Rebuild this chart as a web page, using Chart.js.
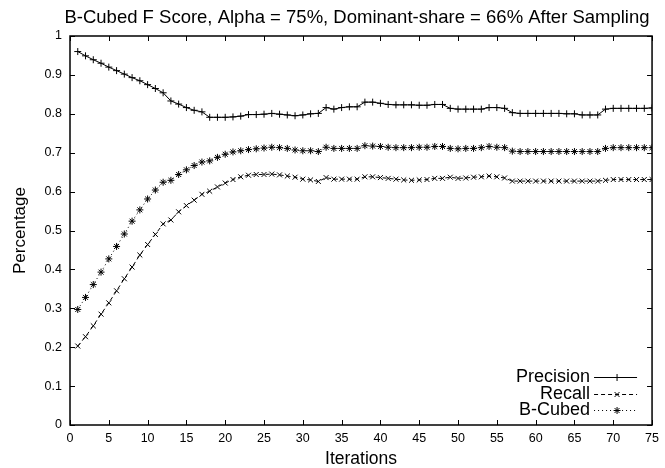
<!DOCTYPE html>
<html>
<head>
<meta charset="utf-8">
<script src="https://cdn.jsdelivr.net/npm/chart.js@4"></script>
<style>
  html, body { margin: 0; padding: 0; background: #fff; }
  #zone { width: 665px; height: 468px; }
</style>
</head>
<body>
<div id="zone"><canvas id="graphe"></canvas></div>
<script>
// Donnees (iterations 1 a 75)
const iterations = Array.from({ length: 75 }, (_, i) => i + 1);

const precision = [
  0.960, 0.949, 0.939, 0.930, 0.920, 0.911, 0.902, 0.893, 0.885, 0.875,
  0.865, 0.854, 0.833, 0.825, 0.816, 0.809, 0.805, 0.791, 0.791, 0.791,
  0.792, 0.794, 0.798, 0.798, 0.799, 0.801, 0.799, 0.797, 0.795, 0.797,
  0.800, 0.801, 0.816, 0.812, 0.816, 0.818, 0.818, 0.830, 0.830, 0.827,
  0.824, 0.823, 0.823, 0.823, 0.822, 0.822, 0.824, 0.824, 0.814, 0.812,
  0.812, 0.812, 0.812, 0.816, 0.816, 0.814, 0.803, 0.801, 0.801, 0.801,
  0.801, 0.801, 0.801, 0.800, 0.800, 0.797, 0.797, 0.797, 0.812, 0.814,
  0.814, 0.814, 0.814, 0.814, 0.815
];

const recall = [
  0.203, 0.227, 0.255, 0.285, 0.314, 0.345, 0.376, 0.406, 0.437, 0.464,
  0.490, 0.517, 0.527, 0.548, 0.564, 0.578, 0.593, 0.601, 0.612, 0.622,
  0.631, 0.638, 0.642, 0.644, 0.644, 0.645, 0.643, 0.640, 0.637, 0.632,
  0.630, 0.626, 0.636, 0.632, 0.632, 0.632, 0.632, 0.638, 0.638, 0.636,
  0.634, 0.632, 0.630, 0.629, 0.630, 0.631, 0.634, 0.634, 0.637, 0.634,
  0.635, 0.637, 0.638, 0.640, 0.638, 0.635, 0.627, 0.627, 0.627, 0.627,
  0.627, 0.627, 0.627, 0.627, 0.627, 0.627, 0.627, 0.627, 0.629, 0.631,
  0.631, 0.631, 0.631, 0.631, 0.631
];

const bcubed = [
  0.297, 0.328, 0.361, 0.393, 0.427, 0.459, 0.491, 0.524, 0.553, 0.581,
  0.604, 0.624, 0.629, 0.644, 0.656, 0.667, 0.676, 0.679, 0.688, 0.696,
  0.702, 0.705, 0.708, 0.710, 0.712, 0.714, 0.713, 0.711, 0.707, 0.705,
  0.705, 0.703, 0.714, 0.711, 0.711, 0.711, 0.711, 0.718, 0.717, 0.716,
  0.714, 0.713, 0.713, 0.713, 0.714, 0.714, 0.716, 0.716, 0.711, 0.710,
  0.711, 0.711, 0.713, 0.716, 0.714, 0.713, 0.704, 0.703, 0.703, 0.703,
  0.703, 0.703, 0.703, 0.703, 0.703, 0.703, 0.703, 0.703, 0.711, 0.713,
  0.713, 0.713, 0.713, 0.713, 0.713
];

// Graduations des axes
const xTicks = [0, 5, 10, 15, 20, 25, 30, 35, 40, 45, 50, 55, 60, 65, 70, 75];
const yTicks = [0, 0.1, 0.2, 0.3, 0.4, 0.5, 0.6, 0.7, 0.8, 0.9, 1];
const yTickLabels = ["0", "0.1", "0.2", "0.3", "0.4", "0.5", "0.6", "0.7", "0.8", "0.9", "1"];

const TITRE = "B-Cubed F Score, Alpha = 75%, Dominant-share = 66% After Sampling";
const POLICE = "'Liberation Sans', Arial, sans-serif";
const NOIR = "#000";

function serie(label, valeurs, style, tirets) {
  return {
    label: label,
    data: iterations.map((it, i) => ({ x: it, y: valeurs[i] })),
    borderColor: NOIR,
    backgroundColor: NOIR,
    borderWidth: 1,
    borderDash: tirets,
    pointStyle: style,
    pointRadius: 3.5,
    pointBorderWidth: 1,
    pointBorderColor: NOIR,
    tension: 0,
  };
}

// Titre place comme dans l'original (un peu decale vers la droite)
const titre = {
  id: "titre",
  afterDraw(chart) {
    const ctx = chart.ctx;
    ctx.save();
    ctx.font = "18.5px " + POLICE;
    ctx.fillStyle = NOIR;
    ctx.textAlign = "center";
    ctx.textBaseline = "alphabetic";
    ctx.fillText(TITRE, 357, 22.5);
    ctx.restore();
  },
};

// Cadre facon gnuplot : bordure + graduations vers l'interieur, sur les 4 cotes
const cadre = {
  id: "cadre",
  afterDatasetsDraw(chart) {
    const { ctx, chartArea: a, scales } = chart;
    const long = 5;
    ctx.save();
    ctx.strokeStyle = NOIR;
    ctx.lineWidth = 1;
    ctx.beginPath();
    for (const v of xTicks) {
      const px = Math.round(scales.x.getPixelForValue(v)) + 0.5;
      ctx.moveTo(px, a.bottom); ctx.lineTo(px, a.bottom - long);
      ctx.moveTo(px, a.top); ctx.lineTo(px, a.top + long);
    }
    for (const v of yTicks) {
      const py = Math.round(scales.y.getPixelForValue(v)) + 0.5;
      ctx.moveTo(a.left, py); ctx.lineTo(a.left + long, py);
      ctx.moveTo(a.right, py); ctx.lineTo(a.right - long, py);
    }
    ctx.stroke();
    ctx.lineWidth = 1.5;
    ctx.strokeRect(a.left, a.top, a.right - a.left, a.bottom - a.top);
    ctx.restore();
  },
};

// Legende en bas a droite : texte aligne a droite puis echantillon de trait
const legende = {
  id: "legende",
  afterDraw(chart) {
    const { ctx, chartArea: a } = chart;
    ctx.save();
    ctx.font = "18px " + POLICE;
    ctx.textAlign = "right";
    ctx.textBaseline = "middle";
    ctx.fillStyle = NOIR;
    chart.data.datasets.forEach((ds, i) => {
      const y = Math.round(a.bottom - 48 + i * 16.5);
      const xTexte = a.right - 62;
      ctx.fillText(ds.label, xTexte, y);
      ctx.strokeStyle = NOIR;
      ctx.lineWidth = 1;
      ctx.setLineDash(ds.borderDash || []);
      ctx.beginPath();
      ctx.moveTo(xTexte + 4, y + 0.5);
      ctx.lineTo(xTexte + 47, y + 0.5);
      ctx.stroke();
      ctx.setLineDash([]);
      Chart.helpers.drawPoint(ctx, { pointStyle: ds.pointStyle, radius: ds.pointRadius, borderWidth: 1 }, xTexte + 27, y + 0.5);
    });
    ctx.restore();
  },
};

new Chart(document.getElementById("graphe"), {
  type: "line",
  data: {
    datasets: [
      serie("Precision", precision, "cross", []),
      serie("Recall", recall, "crossRot", [4, 3]),
      serie("B-Cubed", bcubed, "star", [1, 3]),
    ],
  },
  options: {
    responsive: true,
    maintainAspectRatio: false,
    animation: false,
    layout: { padding: { left: 0, right: 10, top: 36, bottom: 0 } },
    plugins: {
      legend: { display: false },
      tooltip: { enabled: false },
      title: { display: false },
    },
    scales: {
      x: {
        type: "linear",
        min: 0,
        max: 75,
        afterBuildTicks: (s) => { s.ticks = xTicks.map(v => ({ value: v })); },
        afterFit: (s) => { s.height = 43; },
        grid: { display: false, drawTicks: false },
        border: { display: false },
        ticks: { color: NOIR, padding: 6, font: { family: POLICE, size: 12.5 }, maxRotation: 0, autoSkip: false },
        title: { display: true, text: "Iterations", color: NOIR, font: { family: POLICE, size: 17.5, lineHeight: 1 }, padding: { top: 0, bottom: 0 } },
      },
      y: {
        min: 0,
        max: 1,
        afterBuildTicks: (s) => { s.ticks = yTicks.map(v => ({ value: v })); },
        afterFit: (s) => { s.width = 70; },
        grid: { display: false, drawTicks: false },
        border: { display: false },
        ticks: {
          color: NOIR,
          padding: 8,
          font: { family: POLICE, size: 12.5 },
          autoSkip: false,
          callback: (v) => yTickLabels[yTicks.indexOf(Math.round(v * 10) / 10)],
        },
        title: { display: true, text: "Percentage", color: NOIR, font: { family: POLICE, size: 17, lineHeight: 1 }, padding: { top: 12, bottom: 0 } },
      },
    },
  },
  plugins: [cadre, legende, titre],
});
</script>
</body>
</html>
